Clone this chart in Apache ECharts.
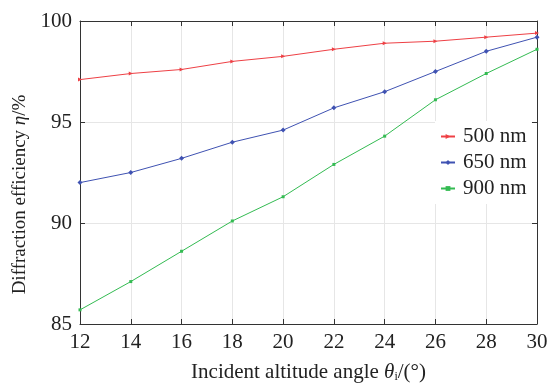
<!DOCTYPE html>
<html>
<head>
<meta charset="utf-8">
<script src="https://cdn.jsdelivr.net/npm/echarts@6/dist/echarts.min.js"></script>
<style>
  html, body { margin: 0; padding: 0; background: #fff; }
  #main { width: 551px; height: 388px; }
</style>
</head>
<body>
<div id="main"></div>
<script>
var angles = [12, 14, 16, 18, 20, 22, 24, 26, 28, 30];
var eff500 = [97.1, 97.4, 97.6, 98.0, 98.25, 98.6, 98.9, 99.0, 99.2, 99.4];
var eff650 = [92.0, 92.5, 93.2, 94.0, 94.6, 95.7, 96.5, 97.5, 98.5, 99.2];
var eff900 = [85.7, 87.1, 88.6, 90.1, 91.3, 92.9, 94.3, 96.1, 97.4, 98.6];
var names = ['500 nm', '650 nm', '900 nm'];

var font = 'Liberation Serif';

function pairs(ys) {
  return angles.map(function (x, i) { return [x, ys[i]]; });
}

var chart = echarts.init(document.getElementById('main'));

var tickStyle = { show: true, inside: true, length: 5, lineStyle: { color: '#333' } };
var lineStyle = { show: true, lineStyle: { color: '#333', width: 1 } };
var gridLine = { show: true, lineStyle: { color: '#e6e6e6', width: 1 } };

var option = {
  animation: false,
  backgroundColor: '#fff',
  textStyle: { fontFamily: font },
  grid: { left: 80, right: 14, top: 21, bottom: 61 },
  legend: {
    left: 435, top: 121,
    orient: 'vertical',
    itemWidth: 14, itemHeight: 6, itemGap: 5,
    backgroundColor: '#fff',
    textStyle: { fontFamily: font, fontSize: 21, color: '#222', padding: [0, 0, 0, 3] },
    data: names
  },
  xAxis: [{
    type: 'value', min: 12, max: 30, interval: 2,
    axisLine: lineStyle, axisTick: tickStyle, splitLine: gridLine,
    axisLabel: { fontFamily: font, fontSize: 21, color: '#222', margin: 8 },
    name: '{n|Incident altitude angle }{i|θ}{s|i}{n|/(°)}',
    nameLocation: 'middle', nameGap: 38,
    nameTextStyle: {
      rich: {
        n: { fontFamily: font, fontSize: 21, color: '#222' },
        i: { fontFamily: font, fontSize: 21, fontStyle: 'italic', color: '#222' },
        s: { fontFamily: font, fontSize: 12, color: '#222', verticalAlign: 'bottom', padding: [9, 0, 0, 0] }
      }
    }
  }, {
    type: 'value', min: 12, max: 30, interval: 2, position: 'top',
    axisLine: lineStyle, axisTick: tickStyle, axisLabel: { show: false }, splitLine: { show: false }
  }],
  yAxis: [{
    type: 'value', min: 85, max: 100, interval: 5,
    axisLine: lineStyle, axisTick: tickStyle, splitLine: gridLine,
    axisLabel: { fontFamily: font, fontSize: 21, color: '#222', margin: 8 },
    name: '{n|Diffraction efficiency }{i|η}{n|/%}',
    nameLocation: 'middle', nameGap: 50, nameRotate: 90,
    nameTextStyle: {
      padding: [0, 44, 0, 0],
      rich: {
        n: { fontFamily: font, fontSize: 19, color: '#222' },
        i: { fontFamily: font, fontSize: 19, fontStyle: 'italic', color: '#222' }
      }
    }
  }, {
    type: 'value', min: 85, max: 100, interval: 5, position: 'right',
    axisLine: lineStyle, axisTick: tickStyle, axisLabel: { show: false }, splitLine: { show: false }
  }],
  series: [{
    name: names[0], type: 'line', data: pairs(eff500),
    symbol: 'triangle', symbolSize: 4, symbolRotate: -90,
    itemStyle: { color: '#ee4045' }, lineStyle: { width: 1, color: '#ee4045' }
  }, {
    name: names[1], type: 'line', data: pairs(eff650),
    symbol: 'diamond', symbolSize: 5,
    itemStyle: { color: '#3f52b2' }, lineStyle: { width: 1, color: '#3f52b2' }
  }, {
    name: names[2], type: 'line', data: pairs(eff900),
    symbol: 'rect', symbolSize: 3,
    itemStyle: { color: '#34bb52' }, lineStyle: { width: 1, color: '#34bb52' }
  }]
};

chart.setOption(option);
</script>
</body>
</html>
